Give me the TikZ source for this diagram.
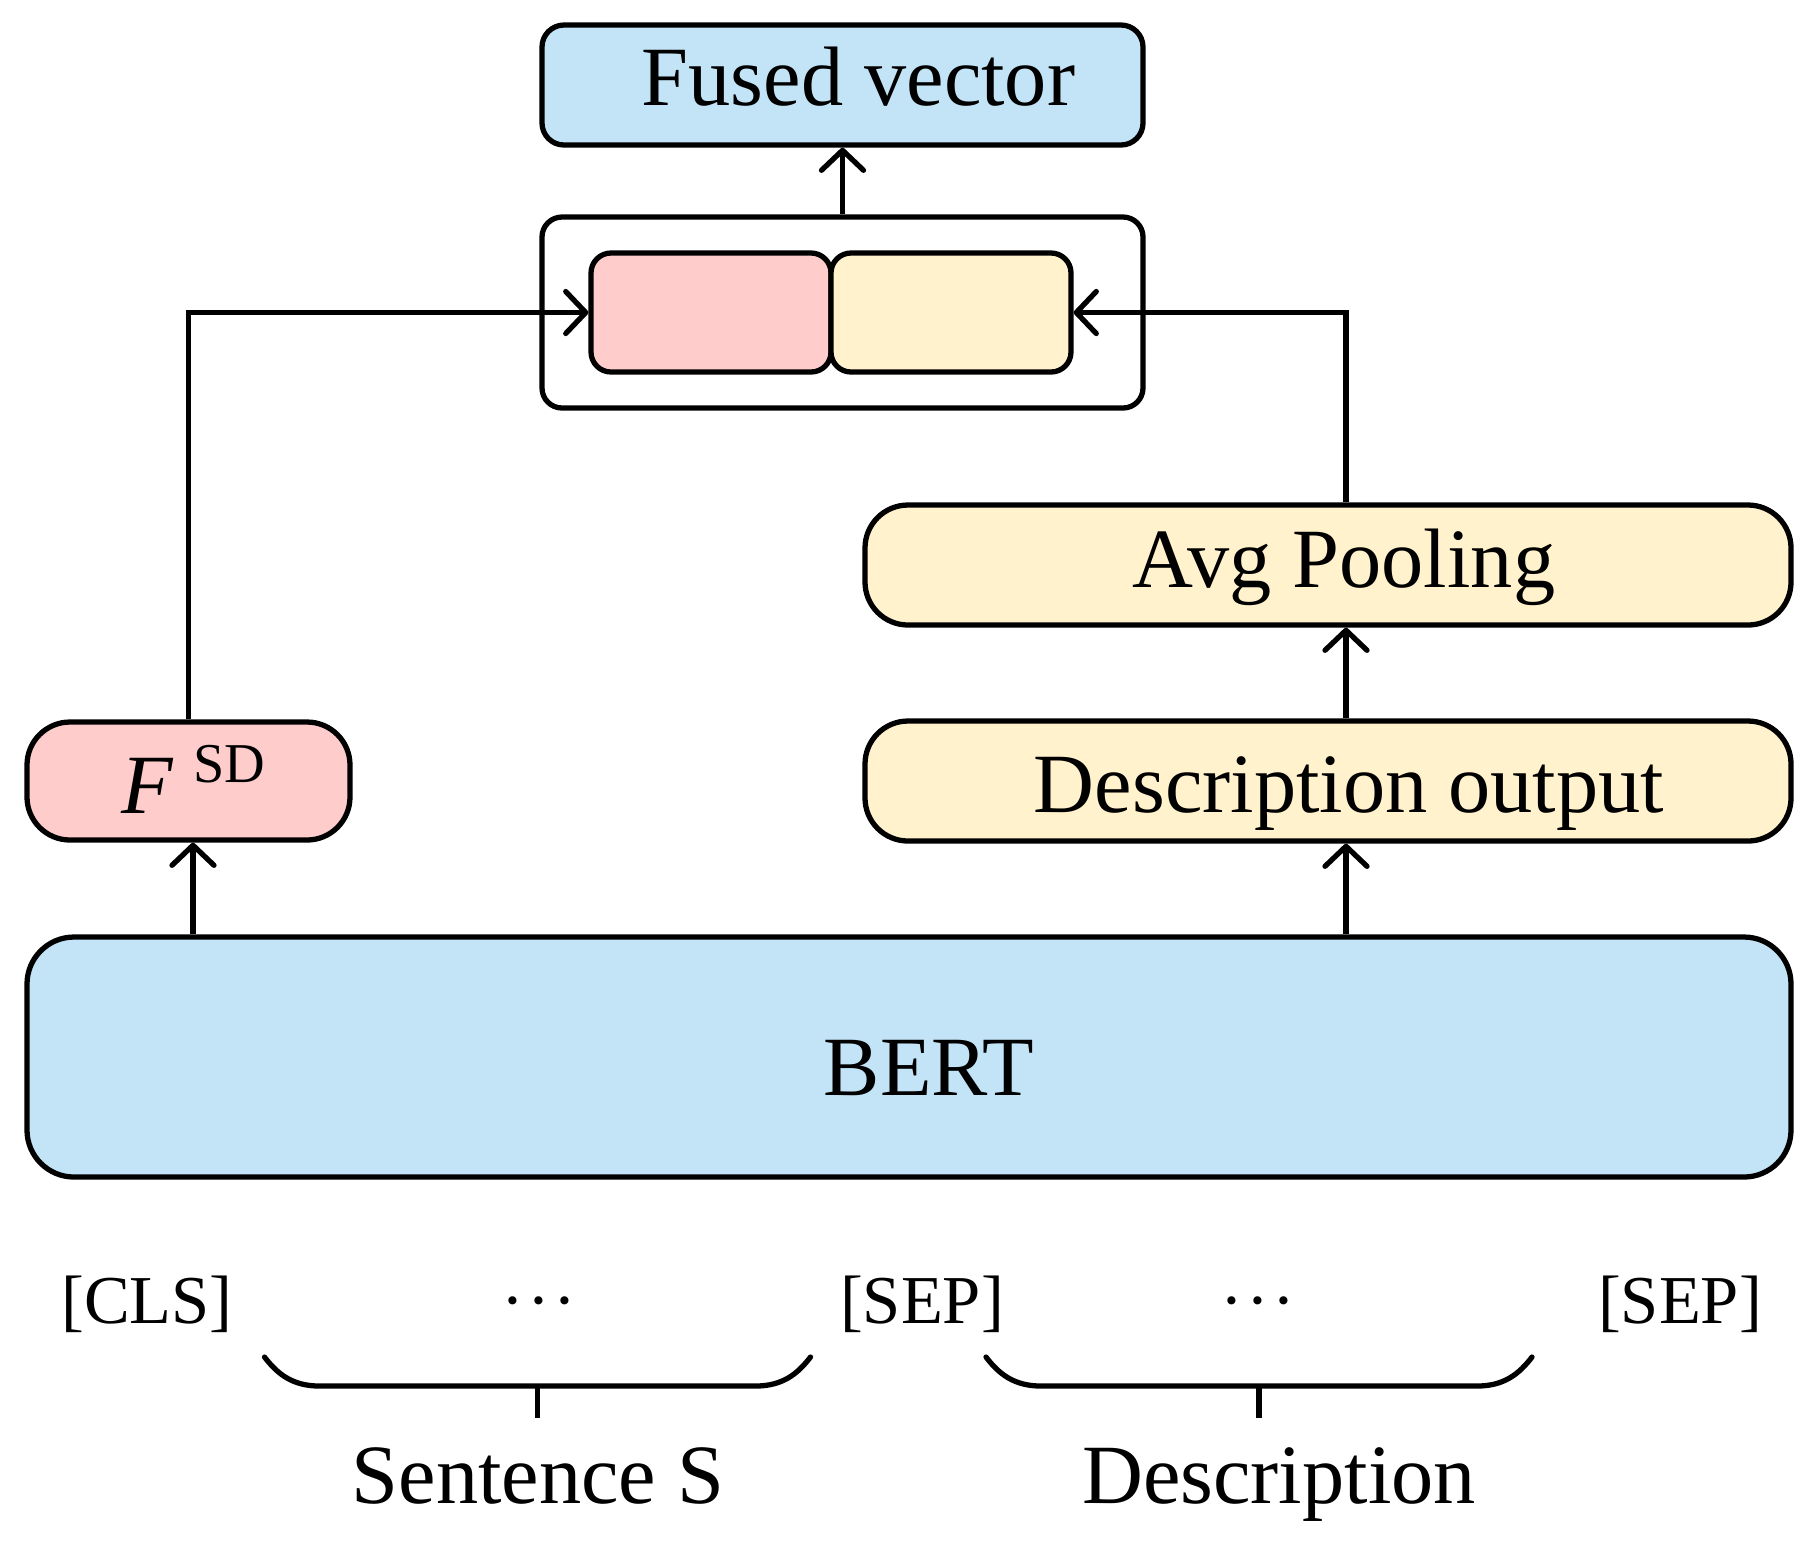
\documentclass[tikz,border=0pt]{standalone}
\usepackage{fontspec}
\setmainfont{Liberation Serif}
\usetikzlibrary{arrows.meta}
\definecolor{bertblue}{HTML}{C2E4F6}
\definecolor{sdpink}{HTML}{FFCCCC}
\definecolor{descyellow}{HTML}{FFF2CC}
\newcommand{\middots}{\textperiodcentered\kern1pt\textperiodcentered\kern1pt\textperiodcentered}
\begin{document}
\begin{tikzpicture}[>={Straight Barb[length=0.2cm,width=0.42cm,round]},line width=1.5pt]
  \tikzset{
    block/.style={draw=black,rounded corners=0.43cm,inner sep=0pt,text depth=0.1cm,font=\fontsize{24}{28}\selectfont},
    shove/.style={execute at begin node={\hspace*{#1}}},
    token/.style={anchor=base,font=\fontsize{19.5}{24}\selectfont},
    groupname/.style={anchor=base,font=\fontsize{24}{28}\selectfont},
    underbrace/.pic={
        \draw[line cap=round] (-2.73,0.29) .. controls (-2.6,0.12) and (-2.45,0) .. (-2.18,0) -- (2.18,0) .. controls (2.45,0) and (2.6,0.12) .. (2.73,0.29);
        \draw (0,0) -- (0,-0.32);
      }
  }
  \useasboundingbox (0,0) rectangle (18.19,-15.46);
  % top: fused vector and the concatenation
  \node[block,fill=bertblue,rounded corners=0.22cm,minimum width=6.01cm,minimum height=1.2cm,text height=0.5cm,shove=0.32cm] (fused) at (8.425,-0.85) {Fused vector};
  \node[block,rounded corners=0.2cm,minimum width=6.01cm,minimum height=1.91cm] (concat) at (8.425,-3.125) {};
  \node[block,fill=sdpink,rounded corners=0.2cm,minimum width=2.4cm,minimum height=1.19cm] (sdpart) at (7.11,-3.125) {};
  \node[block,fill=descyellow,rounded corners=0.2cm,minimum width=2.4cm,minimum height=1.19cm] (descpart) at (9.51,-3.125) {};
  % right branch
  \node[block,fill=descyellow,minimum width=9.26cm,minimum height=1.2cm,text height=0.54cm,shove=0.32cm] (avg) at (13.28,-5.65) {Avg Pooling};
  \node[block,fill=descyellow,minimum width=9.26cm,minimum height=1.2cm,text height=0.72cm,shove=0.42cm] (descout) at (13.28,-7.81) {Description output};
  % left branch
  \node[block,fill=sdpink,minimum width=3.23cm,minimum height=1.18cm,text height=0.74cm,shove=0.1cm] (fsd) at (1.885,-7.81) {{\itshape F}\hspace{0.2cm}\raisebox{0.31cm}{\fontsize{16}{18}\selectfont SD}};
  \node[block,fill=bertblue,rounded corners=0.47cm,minimum width=17.64cm,minimum height=2.4cm,text height=0.86cm,shove=0.4cm] (bert) at (9.09,-10.57) {BERT};
  \coordinate (lcol) at (1.93,-9);
  \coordinate (rcol) at (13.46,-9);
  \draw[->] (concat.north) -- (fused.south);
  \draw[->] (fsd.north) |- (sdpart.west);
  \draw[->] (avg.north -| rcol) |- (descpart.east);
  \draw[->] (bert.north -| lcol) -- (fsd.south -| lcol);
  \draw[->] (bert.north -| rcol) -- (descout.south -| rcol);
  \draw[->] (descout.north -| rcol) -- (avg.south -| rcol);
  % input tokens
  \node[token] (cls) at (1.47,-13.23) {[CLS]};
  \node[token] (dotsa) at (5.39,-13.23) {\middots};
  \node[token] (sepa) at (9.22,-13.23) {[SEP]};
  \node[token] (dotsb) at (12.58,-13.23) {\middots};
  \node[token] (sepb) at (16.80,-13.23) {[SEP]};
  \pic at (5.375,-13.86) {underbrace};
  \pic at (12.59,-13.86) {underbrace};
  \node[groupname] (sentlabel) at (5.38,-15.03) {Sentence S};
  \node[groupname] (desclabel) at (12.79,-15.03) {Description};
\end{tikzpicture}
\end{document}
